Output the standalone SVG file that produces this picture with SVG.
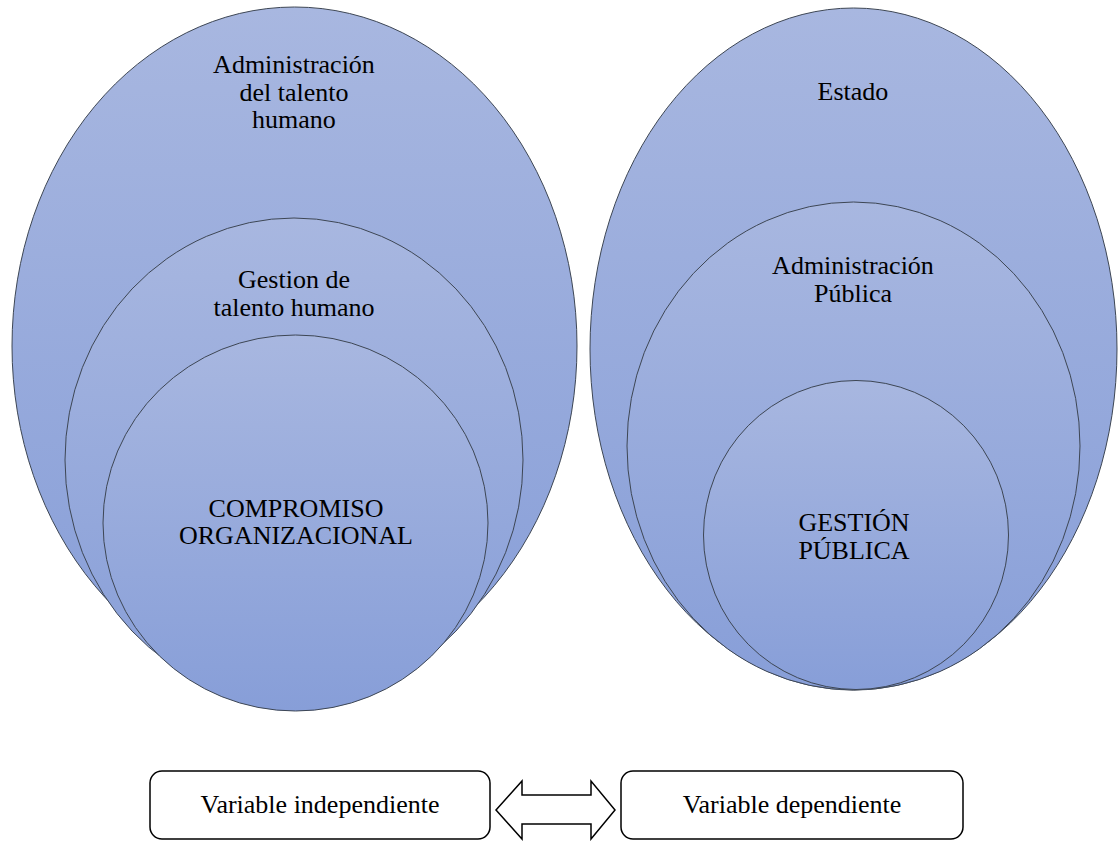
<svg xmlns="http://www.w3.org/2000/svg" width="1119" height="841" viewBox="0 0 1119 841">
<defs>
<linearGradient id="g" x1="0" y1="0" x2="0" y2="1">
<stop offset="0" stop-color="#a8b7e0"/>
<stop offset="1" stop-color="#879ed8"/>
</linearGradient>
<style>
.e{fill:url(#g);stroke:#3d4654;stroke-width:1}
.t{font-family:"Liberation Serif","Times New Roman",serif;font-size:26px;fill:#000;text-anchor:middle}
.b{fill:#fff;stroke:#000;stroke-width:1.5}
</style>
</defs>
<rect width="1119" height="841" fill="#fff"/>
<g id="left-outer">
<ellipse class="e" cx="294.5" cy="346" rx="282.5" ry="339"/>
<text class="t" x="294" y="73">Administración</text>
<text class="t" x="294" y="101">del talento</text>
<text class="t" x="294" y="128">humano</text>
</g>
<g id="left-middle">
<ellipse class="e" cx="294" cy="460" rx="229" ry="242"/>
<text class="t" x="294" y="288">Gestion de</text>
<text class="t" x="294" y="316">talento humano</text>
</g>
<g id="left-inner">
<ellipse class="e" cx="295.5" cy="523" rx="192.5" ry="188"/>
<text class="t" x="296" y="517">COMPROMISO</text>
<text class="t" x="296" y="544">ORGANIZACIONAL</text>
</g>
<g id="right-outer">
<ellipse class="e" cx="853.5" cy="349" rx="263.5" ry="341"/>
<text class="t" x="853" y="100">Estado</text>
</g>
<g id="right-middle">
<ellipse class="e" cx="853.5" cy="446" rx="226.5" ry="244"/>
<text class="t" x="853" y="274">Administración</text>
<text class="t" x="853" y="302">Pública</text>
</g>
<g id="right-inner">
<ellipse class="e" cx="856" cy="535" rx="152.5" ry="154.5"/>
<text class="t" x="854" y="531">GESTIÓN</text>
<text class="t" x="854" y="559">PÚBLICA</text>
</g>
<g id="box-independiente">
<rect class="b" x="150" y="771" width="340" height="68" rx="12" ry="12"/>
<text class="t" x="320" y="813">Variable independiente</text>
</g>
<g id="box-dependiente">
<rect class="b" x="621" y="771" width="342" height="68" rx="12" ry="12"/>
<text class="t" x="792" y="813">Variable dependiente</text>
</g>
<g id="connectors">
<polygon class="b" points="496,810 522,781 522,795 591,795 591,781 615,810 591,839 591,824 522,824 522,839"/>
</g>
</svg>
